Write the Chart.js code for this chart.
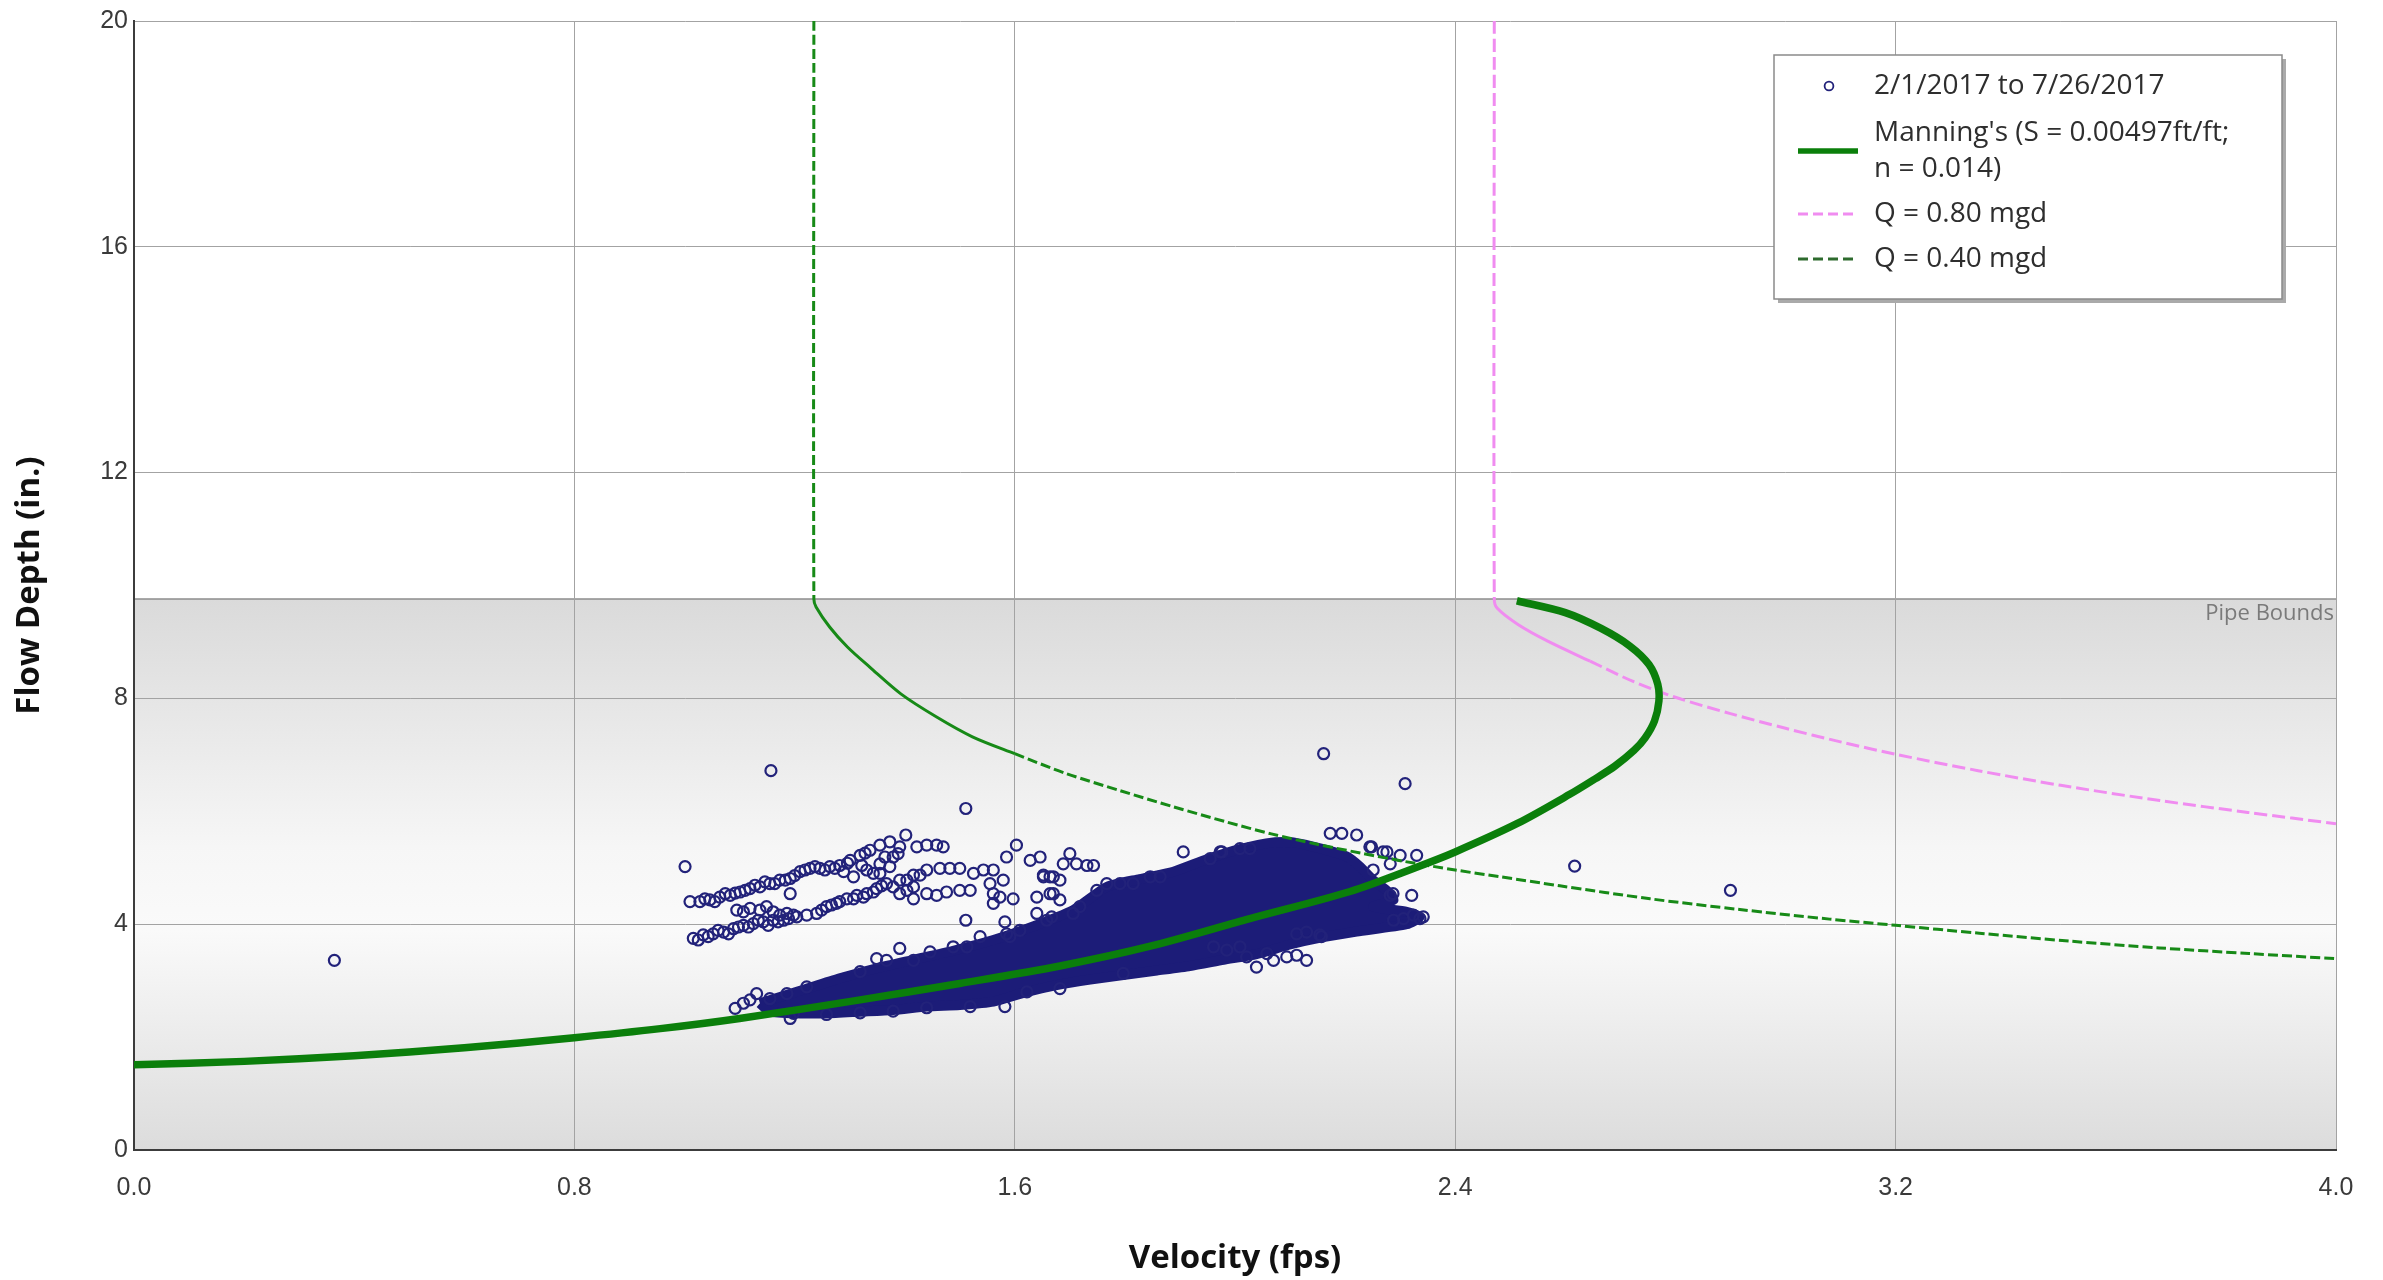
<!DOCTYPE html>
<html>
<head>
<meta charset="utf-8">
<script src="https://cdn.jsdelivr.net/npm/chart.js@4.4.1/dist/chart.umd.min.js"></script>
<style>
  body { margin: 0; background: #fff; }
  canvas { display: block; }
</style>
</head>
<body>
<canvas id="chart" width="2383" height="1280"></canvas>
<script>
const velocityTicks = [0, 0.8, 1.6, 2.4, 3.2, 4.0];
const depthTicks = [0, 4, 8, 12, 16, 20];
const pipeTopDepth = 9.76;

// [velocity fps, depth in] readings picked off the plot
const readings = [
    // loose ones
    [0.364, 3.36], [1.157, 6.72], [1.511, 6.05], [2.161, 7.02], [2.309, 6.49], [2.617, 5.03], [2.90, 4.60], [1.001, 5.02], [1.402, 5.58],
    // upper streak
    [1.010, 4.40], [1.028, 4.40], [1.037, 4.45], [1.046, 4.43], [1.055, 4.40], [1.064, 4.48], [1.074, 4.54], [1.083, 4.51], [1.101, 4.57],
    [1.110, 4.60], [1.119, 4.63], [1.128, 4.69], [1.137, 4.66], [1.146, 4.75], [1.155, 4.72], [1.164, 4.72], [1.173, 4.78], [1.183, 4.78],
    [1.192, 4.81], [1.210, 4.93], [1.228, 4.99], [1.237, 5.02], [1.246, 4.99], [1.255, 4.96], [1.264, 5.02], [1.273, 4.99], [1.282, 5.04],
    [1.289, 4.93], [1.301, 5.13], [1.307, 4.84], [1.319, 5.22], [1.322, 5.04], [1.331, 4.96], [1.337, 5.31], [1.343, 4.90], [1.355, 5.40],
    [1.355, 5.07], [1.355, 4.90], [1.364, 5.19], [1.373, 5.46], [1.373, 5.02], [1.379, 5.19], [1.388, 5.25], [1.391, 5.37], [1.422, 5.37],
    [1.440, 5.40], [1.458, 5.40], [1.470, 5.37], [1.092, 4.55], [1.200, 4.86], [1.219, 4.96], [1.296, 5.08], [1.328, 5.26],
    // middle streak
    [1.095, 4.25], [1.107, 4.22], [1.119, 4.28], [1.137, 4.25], [1.149, 4.31], [1.161, 4.22], [1.173, 4.16], [1.186, 4.19], [1.192, 4.54],
    [1.204, 4.13], [1.222, 4.16], [1.240, 4.19], [1.258, 4.31], [1.276, 4.37], [1.282, 4.40], [1.295, 4.45], [1.307, 4.45], [1.313, 4.51],
    [1.325, 4.48], [1.331, 4.54], [1.343, 4.57], [1.349, 4.63], [1.367, 4.72], [1.379, 4.66], [1.391, 4.78], [1.391, 4.54], [1.404, 4.78],
    [1.416, 4.87], [1.416, 4.66], [1.428, 4.87], [1.440, 4.96], [1.464, 4.99], [1.482, 4.99], [1.500, 4.99], [1.249, 4.25], [1.267, 4.34],
    [1.358, 4.68],
    // lower streak
    [1.016, 3.75], [1.025, 3.72], [1.034, 3.81], [1.043, 3.78], [1.052, 3.83], [1.061, 3.89], [1.071, 3.86], [1.080, 3.83], [1.089, 3.92],
    [1.107, 3.98], [1.116, 3.95], [1.125, 4.01], [1.134, 4.07], [1.143, 4.04], [1.152, 3.98], [1.161, 4.07], [1.170, 4.04], [1.180, 4.07],
    [1.198, 4.16], [1.098, 3.95], [1.189, 4.10],
    // scattered, 1.4 - 2.0 fps
    [1.404, 4.60], [1.416, 4.45], [1.440, 4.54], [1.458, 4.51], [1.476, 4.57], [1.500, 4.60], [1.519, 4.60], [1.525, 4.90], [1.543, 4.96],
    [1.561, 4.96], [1.555, 4.72], [1.561, 4.54], [1.573, 4.48], [1.597, 4.45], [1.561, 4.37], [1.579, 4.78], [1.511, 4.07], [1.582, 4.04],
    [1.585, 5.19], [1.603, 5.40], [1.628, 5.13], [1.646, 5.19], [1.652, 4.84], [1.670, 4.84], [1.640, 4.48], [1.670, 4.54], [1.640, 4.19],
    [1.609, 3.89], [1.591, 3.78], [1.700, 5.25], [1.688, 5.07], [1.712, 5.07], [1.731, 5.04], [1.743, 5.04], [1.664, 4.84], [1.682, 4.78],
    [1.652, 4.87], [1.664, 4.54], [1.682, 4.43], [1.667, 4.13], [1.749, 4.60], [1.767, 4.72], [1.791, 4.72], [1.815, 4.72], [1.846, 4.84],
    [1.864, 4.84], [1.906, 5.28], [1.955, 5.16], [1.976, 5.28], [2.009, 5.34], [2.027, 5.34], [1.718, 4.31], [1.706, 4.19],
    // around the dense band
    [1.092, 2.51], [1.107, 2.60], [1.119, 2.66], [1.131, 2.77], [1.155, 2.68], [1.186, 2.77], [1.198, 2.42], [1.192, 2.33], [1.222, 2.89],
    [1.319, 3.16], [1.349, 3.39], [1.367, 3.36], [1.391, 3.57], [1.416, 3.36], [1.446, 3.51], [1.488, 3.60], [1.513, 3.60], [1.537, 3.78],
    [1.585, 3.83], [1.658, 4.07], [1.258, 2.40], [1.319, 2.43], [1.379, 2.46], [1.440, 2.52], [1.519, 2.54], [1.582, 2.54], [1.622, 2.80],
    [1.682, 2.86], [1.797, 3.13],
    [2.173, 5.61], [2.194, 5.61], [2.221, 5.58], [2.245, 5.37], [2.269, 5.28], [2.300, 5.22], [2.330, 5.22], [2.282, 5.07], [2.251, 4.96],
    [2.282, 4.51], [2.321, 4.51], [2.342, 4.13], [2.324, 4.16], [2.306, 4.10], [2.288, 4.07], [2.154, 3.81], [2.130, 3.86], [2.112, 3.83],
    [2.021, 3.42], [2.039, 3.24], [2.070, 3.36], [2.094, 3.42], [2.112, 3.45], [2.130, 3.36], [1.985, 3.54], [1.961, 3.60], [2.009, 3.60],
    [2.058, 3.48], [2.248, 5.37], [2.276, 5.28], [2.287, 4.54], [2.157, 3.78], [2.336, 4.10], [1.973, 5.28]
];

// outline of the solid mass where the rings fully overlap
const denseOutline = [
    [1.137, 2.60], [1.210, 2.82], [1.282, 3.04], [1.349, 3.22], [1.416, 3.37], [1.488, 3.53], [1.561, 3.72], [1.622, 3.92],
    [1.706, 4.25], [1.767, 4.66], [1.827, 4.80], [1.888, 4.93], [1.949, 5.15], [2.009, 5.33], [2.070, 5.45], [2.106, 5.45],
    [2.160, 5.33], [2.203, 5.20], [2.227, 5.02], [2.251, 4.78], [2.275, 4.60], [2.288, 4.43], [2.251, 4.31], [2.312, 4.22],
    [2.336, 4.13], [2.312, 4.00], [2.221, 3.87], [2.160, 3.77], [2.100, 3.64], [2.039, 3.47], [1.979, 3.37], [1.918, 3.26],
    [1.858, 3.18], [1.797, 3.10], [1.737, 3.02], [1.676, 2.92], [1.622, 2.80], [1.561, 2.63], [1.500, 2.57], [1.440, 2.54],
    [1.379, 2.48], [1.319, 2.45], [1.258, 2.42], [1.210, 2.42], [1.155, 2.45], [1.137, 2.60]
];

const manningCurve = [
    [0, 1.51], [0.2, 1.57], [0.4, 1.67], [0.6, 1.81], [0.8, 1.99], [0.956, 2.15], [1.1, 2.33], [1.319, 2.66], [1.5, 2.95],
    [1.682, 3.26], [1.846, 3.61], [2.027, 4.10], [2.209, 4.58], [2.33, 5.01], [2.40, 5.28], [2.512, 5.78], [2.608, 6.30],
    [2.655, 6.58], [2.69, 6.80], [2.725, 7.08], [2.745, 7.30], [2.762, 7.60], [2.770, 7.95], [2.768, 8.25], [2.752, 8.60],
    [2.717, 8.93], [2.665, 9.24], [2.60, 9.52], [2.512, 9.73]
];

const q080Curve = [
    [2.471, 20], [2.471, 9.76], [2.476, 9.60], [2.514, 9.31], [2.569, 9.01], [2.645, 8.66], [2.721, 8.31], [2.80, 8.02],
    [2.90, 7.73], [3.0, 7.47], [3.1, 7.23], [3.2, 7.01], [3.35, 6.72], [3.5, 6.46], [3.68, 6.19], [3.84, 5.98], [4.0, 5.78]
];

const q040Curve = [
    [1.235, 20], [1.235, 9.76], [1.239, 9.62], [1.264, 9.26], [1.296, 8.91], [1.337, 8.55], [1.393, 8.08], [1.458, 7.67],
    [1.523, 7.32], [1.600, 7.02], [1.693, 6.67], [1.790, 6.37], [1.888, 6.08], [1.985, 5.81], [2.066, 5.60], [2.147, 5.42],
    [2.228, 5.26], [2.309, 5.11], [2.40, 4.96], [2.482, 4.84], [2.59, 4.68], [2.754, 4.45], [2.917, 4.26], [3.08, 4.09],
    [3.20, 3.98], [3.352, 3.84], [3.516, 3.70], [3.679, 3.58], [3.842, 3.48], [4.0, 3.39]
];

const legendLabels = ["2/1/2017 to 7/26/2017", ["Manning's (S = 0.00497ft/ft;", "n = 0.014)"], "Q = 0.80 mgd", "Q = 0.40 mgd"];

const navy = "#22227a";
const manningGreen = "#0b7f0b";
const q080Pink = "#f08cf0";
const q040Green = "#178a17";

const toXY = (arr) => arr.map(([x, y]) => ({ x: x, y: y }));

// solid inside the pipe for a while, dashed elsewhere
const dashOutsideBand = (lowDepth, dash) => (ctx) => {
    if (ctx.p0.parsed.y <= pipeTopDepth + 0.01 && ctx.p1.parsed.y >= lowDepth) return [];
    return dash;
};

const pipeBand = {
    id: "pipeBand",
    beforeDraw(chart) {
        const { ctx, chartArea, scales } = chart;
        const { left, right, top, bottom } = chartArea;
        const yTop = scales.y.getPixelForValue(pipeTopDepth);
        ctx.save();
        ctx.fillStyle = "#ffffff";
        ctx.fillRect(left, top, right - left, bottom - top);
        const grad = ctx.createLinearGradient(0, yTop, 0, bottom);
        grad.addColorStop(0, "#dadada");
        grad.addColorStop(0.45, "#f6f6f6");
        grad.addColorStop(0.6, "#fafafa");
        grad.addColorStop(1, "#dcdcdc");
        ctx.fillStyle = grad;
        ctx.fillRect(left, yTop, right - left, bottom - yTop);
        ctx.strokeStyle = "#8c8c8c";
        ctx.lineWidth = 1.5;
        ctx.beginPath();
        ctx.moveTo(left, yTop);
        ctx.lineTo(right, yTop);
        ctx.stroke();
        ctx.restore();
    },
    beforeDatasetsDraw(chart) {
        const { ctx, chartArea, scales } = chart;
        const yTop = scales.y.getPixelForValue(pipeTopDepth);
        ctx.save();
        ctx.font = '22px "Open Sans"';
        ctx.fillStyle = "#7a7a7a";
        ctx.textAlign = "right";
        ctx.textBaseline = "top";
        ctx.fillText("Pipe Bounds", chartArea.right - 2, yTop + 4);
        ctx.restore();
    }
};

const boxLegend = {
    id: "boxLegend",
    afterDraw(chart) {
        const { ctx, chartArea } = chart;
        const w = 508, h = 244;
        const x0 = chartArea.right - 54 - w;
        const y0 = chartArea.top + 34;
        ctx.save();
        ctx.fillStyle = "#aaaaaa";
        ctx.fillRect(x0 + 4, y0 + 4, w, h);
        ctx.fillStyle = "#ffffff";
        ctx.fillRect(x0, y0, w, h);
        ctx.strokeStyle = "#8a8a8a";
        ctx.lineWidth = 1.5;
        ctx.strokeRect(x0, y0, w, h);

        const textX = x0 + 100;
        ctx.font = '28px "Open Sans"';
        ctx.fillStyle = "#2e2e2e";
        ctx.textBaseline = "middle";
        ctx.textAlign = "left";

        // scatter marker
        ctx.strokeStyle = navy;
        ctx.lineWidth = 1.8;
        ctx.beginPath();
        ctx.arc(x0 + 55, y0 + 31, 4.4, 0, Math.PI * 2);
        ctx.stroke();
        ctx.fillText(legendLabels[0], textX, y0 + 31);

        const sample = (y, color, width, dash) => {
            ctx.strokeStyle = color;
            ctx.lineWidth = width;
            ctx.setLineDash(dash);
            ctx.beginPath();
            ctx.moveTo(x0 + 24, y);
            ctx.lineTo(x0 + 84, y);
            ctx.stroke();
            ctx.setLineDash([]);
        };
        sample(y0 + 96, manningGreen, 5.5, []);
        ctx.fillText(legendLabels[1][0], textX, y0 + 78);
        ctx.fillText(legendLabels[1][1], textX, y0 + 114);
        sample(y0 + 159, q080Pink, 3, [10, 5]);
        ctx.fillText(legendLabels[2], textX, y0 + 159);
        sample(y0 + 204, "#2e6b2e", 3, [10, 5]);
        ctx.fillText(legendLabels[3], textX, y0 + 204);
        ctx.restore();
    }
};

const tickFont = { family: "Liberation Sans", size: 25 };
const titleFont = { family: "Open Sans", size: 33, weight: "bold" };

new Chart(document.getElementById("chart"), {
    type: "scatter",
    plugins: [pipeBand, boxLegend],
    data: {
        datasets: [
            {
                label: "Manning's",
                data: toXY(manningCurve),
                showLine: true,
                borderColor: manningGreen,
                borderWidth: 7.5,
                pointRadius: 0,
                tension: 0.3,
                order: 0
            },
            {
                label: "Q = 0.80 mgd",
                data: toXY(q080Curve),
                showLine: true,
                borderColor: q080Pink,
                borderWidth: 3,
                pointRadius: 0,
                tension: 0.3,
                segment: { borderDash: dashOutsideBand(8.6, [13, 5]) },
                order: 1
            },
            {
                label: "Q = 0.40 mgd",
                data: toXY(q040Curve),
                showLine: true,
                borderColor: q040Green,
                borderWidth: 3,
                pointRadius: 0,
                tension: 0.3,
                segment: { borderDash: dashOutsideBand(7.0, [10, 4]) },
                order: 1
            },
            {
                label: "2/1/2017 to 7/26/2017",
                data: toXY(readings),
                pointStyle: "circle",
                pointRadius: 5.5,
                borderWidth: 2.2,
                borderColor: navy,
                backgroundColor: "rgba(0,0,0,0)",
                order: 2
            },
            {
                label: "dense",
                data: toXY(denseOutline),
                showLine: true,
                fill: "shape",
                backgroundColor: "#1c1c78",
                borderColor: "#1c1c78",
                borderWidth: 10,
                borderJoinStyle: "round",
                pointRadius: 0,
                tension: 0.2,
                order: 3
            }
        ]
    },
    options: {
        responsive: false,
        animation: false,
        layout: { padding: { top: 20, right: 47, left: 0, bottom: 0 } },
        plugins: {
            legend: { display: false },
            tooltip: { enabled: false }
        },
        scales: {
            x: {
                type: "linear",
                min: 0,
                max: 4,
                afterBuildTicks: (scale) => { scale.ticks = velocityTicks.map((v) => ({ value: v })); },
                afterFit: (scale) => { scale.height = 130; },
                ticks: {
                    callback: (v) => Number(v).toFixed(1),
                    font: tickFont,
                    color: "#3a3a3a",
                    padding: 23,
                    maxRotation: 0,
                    autoSkip: false
                },
                grid: { color: "#a3a3a3", lineWidth: 1, drawTicks: false },
                border: { color: "#3c3c3c", width: 2 },
                title: {
                    display: true,
                    text: "Velocity (fps)",
                    font: titleFont,
                    color: "#111111",
                    padding: { top: 0, bottom: 2 }
                }
            },
            y: {
                type: "linear",
                min: 0,
                max: 20,
                afterBuildTicks: (scale) => { scale.ticks = depthTicks.map((v) => ({ value: v })); },
                afterFit: (scale) => { scale.width = 134; },
                ticks: {
                    font: tickFont,
                    color: "#3a3a3a",
                    padding: 6
                },
                grid: { color: "#a3a3a3", lineWidth: 1, drawTicks: false },
                border: { color: "#3c3c3c", width: 2 },
                title: {
                    display: true,
                    text: "Flow Depth (in.)",
                    font: titleFont,
                    color: "#111111",
                    padding: { top: 10, bottom: 0 }
                }
            }
        }
    }
});
</script>
</body>
</html>
